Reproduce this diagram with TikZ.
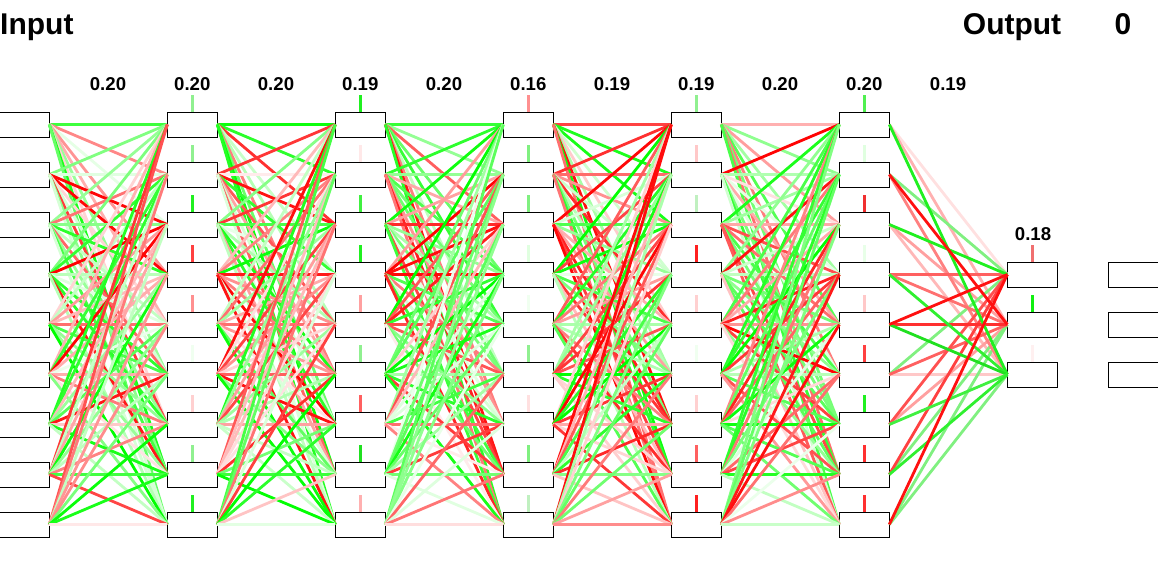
\documentclass[tikz,border=0pt]{standalone}
\usepackage{fontspec}
\setmainfont{Liberation Sans}
\begin{document}
\begin{tikzpicture}[x=1pt,y=-1pt,
  box/.style={draw=black,line width=1pt,minimum width=50pt,minimum height=25pt,inner sep=0pt,outer sep=0pt},
  edge/.style={line width=2.8pt},
  tick/.style={line width=3pt},
  title/.style={font=\fontsize{30}{32}\selectfont\bfseries,inner sep=0pt},
  num/.style={font=\fontsize{18.6}{20}\selectfont\bfseries,inner sep=0pt}]
\useasboundingbox (0,0) rectangle (1158,571);
% hidden columns of nodes
\foreach \c in {0,...,5}{
  \foreach \r in {0,...,8}{
    \node[box] (n\c-\r) at ({24.3+168*\c},{124.5+50*\r}) {};
  }
}
\foreach \r in {3,4,5}{
  \node[box] (o-\r) at (1032.3,{124.5+50*\r}) {};
  \node[box,anchor=west] (f-\r) at (1108.3,{124.5+50*\r}) {};
}
% random weights for hidden layers
\pgfmathsetseed{4711}
\foreach \c [evaluate=\c as \d using int(\c+1)] in {0,...,4}{
  \foreach \r in {0,...,8}{
    \foreach \s in {0,...,8}{
      \pgfmathrandominteger{\sg}{0}{1}
      \pgfmathrandominteger{\v}{8}{100}
      \ifnum\sg=0 \colorlet{ec}{red!\v!white}\else\colorlet{ec}{green!\v!white}\fi
      \draw[edge,ec] (n\c-\r.east) -- (n\d-\s.west);
    }
  }
}
% last layer
\foreach \r/\o/\col in {0/3/FFE0E0,0/4/FFB0B0,2/4/FFA0A0,2/5/FFB8B8,5/5/FFC8C8,6/4/FFA0A0,
  1/3/80F080,5/3/80F080,7/4/80F080,8/4/80F080,8/5/80F080,1/5/FF8080,
  3/3/FF6060,3/4/FF7070,5/4/FF6060,6/3/FF5050,7/3/FF4040,4/4/FF3030,
  0/5/20F020,2/3/20F020,3/5/30F030,4/5/20E020,6/5/40F040,7/5/30F030,
  1/4/FF1010,4/3/FF1010,8/3/FF1010}{
  \definecolor{ec}{HTML}{\col}
  \draw[edge,ec] (n5-\r.east) -- (o-\o.west);
}
% bias ticks
\foreach \c/\cols in {
  1/{90F090,90F090,20F020,FF4040,FF9090,F0FFF0,FFD0D0,90F090,20F020},
  2/{20F020,FFE8E8,40F040,20F020,FFA0A0,90F090,FF6060,20E020,FFB0B0},
  3/{FF9090,80F080,80F080,E0FFE0,F0FFF0,90F090,FFE0E0,80F080,C0F0C0},
  4/{90F090,FFC8C8,C0F0C0,FF2020,FFD0D0,F0FFF0,FFD0D0,FF6060,FF2020},
  5/{50F050,E0FFE0,F03030,E8FFE8,FFC8C8,FF4040,20F020,FF3030,FF3030}}{
  \foreach \col [count=\i from 0] in \cols {
    \definecolor{tc}{HTML}{\col}
    \draw[tick,tc] ([yshift=17pt]n\c-\i.north) -- (n\c-\i.north);
  }
}
\foreach \r/\col in {3/F07070,4/10F010,5/FFF0F0}{
  \definecolor{tc}{HTML}{\col}
  \draw[tick,tc] ([yshift=17pt]o-\r.north) -- (o-\r.north);
}
% titles
\node[title,anchor=base west] (tin) at (0,34.3) {Input};
\node[title,anchor=base west] (tout) at (962.7,34.3) {Output};
\node[title,anchor=base] (tzero) at (1123,34.3) {0};
% weight labels
\foreach \x/\t [count=\k] in {108/0.20,192.3/0.20,276/0.20,360.3/0.19,444/0.20,528.3/0.16,612/0.19,696.3/0.19,780/0.20,864.3/0.20,948/0.19}{
  \node[num,anchor=base] (lab\k) at (\x,90.7) {\t};
}
\node[num,anchor=base] (lab12) at (1033,240.7) {0.18};
\end{tikzpicture}
\end{document}
